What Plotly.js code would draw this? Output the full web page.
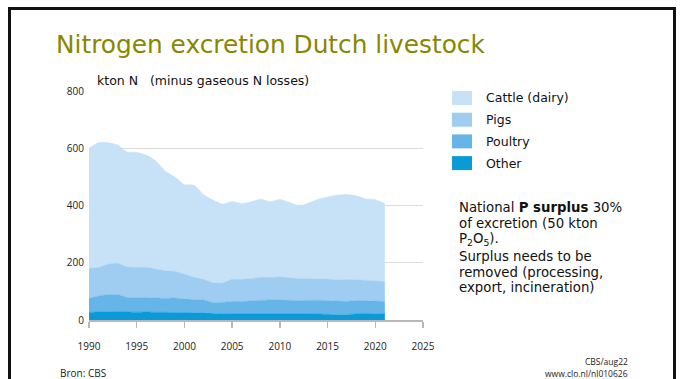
<!DOCTYPE html>
<html>
<head>
<meta charset="utf-8">
<script src="https://cdn.plot.ly/plotly-3.0.1.min.js"></script>
<style>
  html, body { margin: 0; padding: 0; background: #fff; }
  #chart { width: 683px; height: 379px; }
</style>
</head>
<body>
<div id="chart"></div>
<script>
// Nitrogen excretion of Dutch livestock, kton N (minus gaseous N losses), by animal group
const years = [1990, 1991, 1992, 1993, 1994, 1995, 1996, 1997, 1998, 1999,
               2000, 2001, 2002, 2003, 2004, 2005, 2006, 2007, 2008, 2009,
               2010, 2011, 2012, 2013, 2014, 2015, 2016, 2017, 2018, 2019,
               2020, 2021];

const other   = [26, 29, 29, 28, 28, 27, 28, 27, 27, 26,
                 26, 25, 25, 23, 21, 21, 21, 21, 21, 21,
                 21, 21, 21, 21, 21, 20, 18, 18, 22, 23,
                 22, 21];
const poultry = [50, 55, 60, 61, 51, 51, 51, 50, 49, 51,
                 48, 46, 45, 38, 41, 44, 44, 45, 48, 49,
                 50, 48, 47, 48, 48, 48, 48, 47, 46, 45,
                 44, 44];
const pigs    = [104, 100, 106, 109, 107, 106, 105, 101, 96, 93,
                 86, 78, 72, 69, 67, 77, 77, 79, 80, 79,
                 79, 79, 77, 76, 74, 75, 74, 75, 73, 71,
                 71, 69];
const cattle  = [420, 436, 425, 413, 401, 402, 392, 378, 348, 330,
                 313, 322, 296, 289, 276, 272, 265, 268, 273, 265,
                 271, 263, 254, 264, 279, 287, 296, 298, 293, 284,
                 284, 273];

const seriesNames  = ["Other", "Poultry", "Pigs", "Cattle (dairy)"];
const seriesValues = [other, poultry, pigs, cattle];
const seriesColors = ["#0a9ad8", "#66b5e9", "#9ecdf1", "#c7e2f7"];

const xTicks = [1990, 1995, 2000, 2005, 2010, 2015, 2020, 2025];
const yTicks = [0, 200, 400, 600, 800];

// Plot area geometry (pixels) and helpers to place page furniture in paper coords
const M = { l: 89, r: 260, t: 91, b: 59 };
const W = 683, H = 379;
const plotW = W - M.l - M.r, plotH = H - M.t - M.b;
const PX = x => (x - M.l) / plotW;
const PY = y => (H - M.b - y) / plotH;

const baseFont = "DejaVu Sans, Verdana, sans-serif";
const numFont = "Open Sans, DejaVu Sans, sans-serif";

const traces = seriesValues.map((vals, i) => ({
  type: "scatter",
  mode: "lines",
  x: years,
  y: vals,
  name: seriesNames[i],
  stackgroup: "livestock",
  line: { width: 0.5, color: seriesColors[i], shape: "spline", smoothing: 0.5 },
  fillcolor: seriesColors[i],
  hoverinfo: "x+y+name"
}));

const shapes = [];
const annotations = [];

// Frame around the slide
shapes.push({
  type: "rect", xref: "paper", yref: "paper", layer: "above",
  x0: PX(9.5), x1: PX(674.5), y0: PY(8.5), y1: PY(420),
  line: { color: "#111111", width: 3 }, fillcolor: "rgba(0,0,0,0)"
});

// Slide heading
annotations.push({
  xref: "paper", yref: "paper", x: PX(54), y: PY(45),
  xanchor: "left", yanchor: "middle", showarrow: false,
  text: "Nitrogen excretion Dutch livestock",
  font: { family: baseFont, size: 24.8, color: "#878700" }
});

// Unit label above the value axis
annotations.push({
  xref: "paper", yref: "paper", x: PX(95), y: PY(80.5),
  xanchor: "left", yanchor: "middle", showarrow: false,
  text: "kton N\u00a0\u00a0\u00a0(minus gaseous N losses)",
  font: { family: baseFont, size: 12.5, color: "#111111" }
});

// Legend: top row is the top layer of the stack
const legendOrder = [3, 2, 1, 0];
legendOrder.forEach((s, row) => {
  const top = 91 + row * 21.7;
  shapes.push({
    type: "rect", xref: "paper", yref: "paper",
    x0: PX(452), x1: PX(472), y0: PY(top), y1: PY(top + 14),
    line: { width: 0 }, fillcolor: seriesColors[s]
  });
  annotations.push({
    xref: "paper", yref: "paper", x: PX(484), y: PY(top + 7),
    xanchor: "left", yanchor: "middle", showarrow: false,
    text: seriesNames[s],
    font: { family: baseFont, size: 12.5, color: "#111111" }
  });
});

// Note on phosphate surplus
const noteLines = [
  "National <b>P surplus</b> 30%",
  "of excretion (50 kton",
  "P<sub>2</sub>O<sub>5</sub>).",
  "Surplus needs to be",
  "removed (processing,",
  "export, incineration)"
];
const noteCenters = [207.5, 223.5, 239.5, 256.5, 272, 287.5];
noteLines.forEach((t, i) => {
  annotations.push({
    xref: "paper", yref: "paper", x: PX(457), y: PY(noteCenters[i]),
    xanchor: "left", yanchor: "middle", showarrow: false,
    text: t,
    font: { family: baseFont, size: 13.3, color: "#111111" }
  });
});

// Source lines
annotations.push({
  xref: "paper", yref: "paper", x: PX(58), y: PY(372.5),
  xanchor: "left", yanchor: "middle", showarrow: false,
  text: "Bron: CBS",
  font: { family: numFont, size: 10, color: "#222222" }
});
annotations.push({
  xref: "paper", yref: "paper", x: PX(630), y: PY(361.5),
  xanchor: "right", yanchor: "middle", showarrow: false,
  text: "CBS/aug22",
  font: { family: numFont, size: 8.5, color: "#222222" }
});
annotations.push({
  xref: "paper", yref: "paper", x: PX(630), y: PY(373.5),
  xanchor: "right", yanchor: "middle", showarrow: false,
  text: "www.clo.nl/nl010626",
  font: { family: numFont, size: 8.5, color: "#222222" }
});

const layout = {
  width: W, height: H,
  margin: M,
  paper_bgcolor: "#ffffff",
  plot_bgcolor: "#ffffff",
  showlegend: false,
  xaxis: {
    range: [1990, 2025],
    tickvals: xTicks,
    ticktext: xTicks.map(String),
    showgrid: false,
    zeroline: false,
    showline: true,
    linecolor: "#b8b8b8",
    linewidth: 1.5,
    ticks: "outside",
    ticklen: 6,
    tickwidth: 1.5,
    tickcolor: "#b8b8b8",
    ticklabelstandoff: 10,
    tickfont: { family: numFont, size: 10, color: "#222222" },
    fixedrange: true
  },
  yaxis: {
    range: [0, 800],
    tickvals: yTicks,
    ticktext: yTicks.map(String),
    showgrid: true,
    gridcolor: "#dcdcdc",
    gridwidth: 1,
    zeroline: false,
    showline: false,
    ticks: "",
    ticklabelstandoff: 4,
    tickfont: { family: numFont, size: 10, color: "#222222" },
    fixedrange: true
  },
  shapes: shapes,
  annotations: annotations
};

Plotly.newPlot("chart", traces, layout, { displayModeBar: false, staticPlot: true });
</script>
</body>
</html>
